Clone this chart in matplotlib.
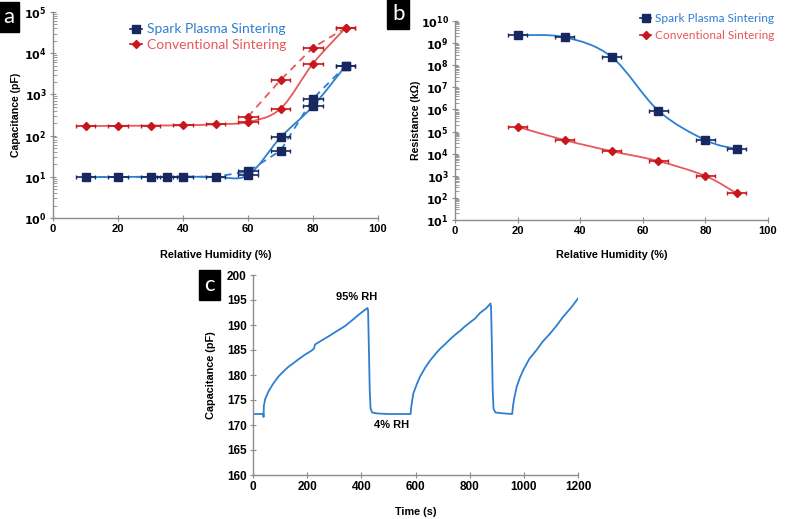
import numpy as np
import matplotlib
matplotlib.use("Agg")
import matplotlib.pyplot as plt
from matplotlib.path import Path
from matplotlib.patches import PathPatch
from matplotlib.lines import Line2D
from matplotlib.ticker import FuncFormatter, LogLocator, MultipleLocator

plt.rcParams['font.family'] = ['Liberation Sans', 'DejaVu Sans']

# panel a: capacitance vs RH
rh_a = [10, 20, 30, 35, 40, 50]
sps_a_flat = [9.8, 9.9, 10.0, 9.8, 10.1, 10.0]
sps_a_rh = [60, 70, 80, 90]
sps_a_solid = [11.0, 90, 520, 4900]
sps_a_dash = [13.5, 43, 790, 4900]
cs_a_rh = [10, 20, 30, 40, 50, 60, 70, 80, 90]
cs_a_solid = [171, 172, 175, 178, 188, 214, 450, 5600, 41000]
cs_a_dash_rh = [60, 70, 80, 90]
cs_a_dash = [288, 2230, 13700, 41000]
xerr_a = 3

# panel b: resistance vs RH
rh_b = [20, 35, 50, 65, 80, 90]
sps_b = [2.3e9, 1.85e9, 2.4e8, 8.7e5, 4.1e4, 1.6e4]
cs_b = [1.65e5, 4.1e4, 1.3e4, 4.6e3, 980, 160]
xerr_b = 3

# panel c: capacitance vs time
t_c = [0, 38, 39, 40, 45, 57, 75, 94, 112, 130, 150, 167, 190, 217, 225, 229,
       250, 278, 310, 340, 365, 389, 410, 423, 425, 428, 431, 434, 440, 460,
       500, 540, 582, 584, 588, 592, 605, 617, 635, 654, 672, 690, 710, 727,
       745, 764, 782, 801, 820, 838, 860, 877, 879, 882, 885, 888, 895, 930,
       957, 960, 965, 974, 985, 998, 1020, 1047, 1070, 1097, 1120, 1146, 1175, 1200]
cap_c = [172.2, 172.2, 171.6, 173.8, 175.2, 176.7, 178.3, 179.7, 180.7, 181.6,
         182.4, 183.1, 184.0, 184.9, 185.3, 186.1, 186.8, 187.7, 188.8, 189.8,
         190.9, 192.0, 192.9, 193.4, 192.8, 185.0, 177.0, 173.3, 172.5, 172.3,
         172.2, 172.2, 172.2, 173.5, 175.0, 176.3, 178.2, 179.7, 181.4, 182.9,
         184.1, 185.2, 186.2, 187.1, 188.0, 188.8, 189.7, 190.5, 191.3, 192.4,
         193.3, 194.3, 193.5, 186.0, 177.0, 173.3, 172.5, 172.3, 172.2, 173.8,
         175.5, 177.7, 179.4, 181.0, 183.2, 185.0, 186.7, 188.3, 189.8, 191.7,
         193.5, 195.3]

BLUE = '#2f7fcf'
NAVY = '#16285f'
RED = '#c8161d'
LRED = '#e9585a'
GRAY = '#8c8c8c'


def smooth_patch(x, y, **kw):
    # excel-like smoothed line: catmull-rom bezier in (x, log y)
    X = np.asarray(x, float)
    Y = np.log10(np.asarray(y, float))
    n = len(X)
    verts = [(X[0], Y[0])]
    codes = [Path.MOVETO]
    for i in range(n - 1):
        p0 = i - 1 if i > 0 else i
        p3 = i + 2 if i + 2 < n else i + 1
        c1 = (X[i] + (X[i + 1] - X[p0]) / 6, Y[i] + (Y[i + 1] - Y[p0]) / 6)
        c2 = (X[i + 1] - (X[p3] - X[i]) / 6, Y[i + 1] - (Y[p3] - Y[i]) / 6)
        verts += [c1, c2, (X[i + 1], Y[i + 1])]
        codes += [Path.CURVE4] * 3
    verts = [(vx, 10 ** vy) for vx, vy in verts]
    return PathPatch(Path(verts, codes), fill=False, **kw)


def style_axes(ax, tsize=8):
    for s in ['top', 'right']:
        ax.spines[s].set_visible(False)
    for s in ['left', 'bottom']:
        ax.spines[s].set_color(GRAY)
        ax.spines[s].set_linewidth(1.0)
    ax.tick_params(which='major', direction='inout', length=5, color=GRAY,
                   labelsize=tsize, pad=2)
    ax.tick_params(which='minor', direction='in', length=3, color=GRAY)
    for lab in ax.get_xticklabels() + ax.get_yticklabels():
        lab.set_fontweight('bold')


def log_fmt(v, pos):
    return r'$\mathbf{10^{%d}}$' % int(round(np.log10(v)))


def panel_label(x, y, s):
    fig.text(x, y, s, color='white', fontsize=16, family='Lato',
             ha='left', va='top',
             bbox=dict(boxstyle='square,pad=0.22', fc='black', ec='black'))


fig = plt.figure(figsize=(7.89, 5.19), dpi=100)
W, H = 789, 519


def add_ax(l, r, t, b):
    return fig.add_axes([l / W, 1 - b / H, (r - l) / W, (b - t) / H])


# ---- panel a
ax = add_ax(53, 378, 12, 218)
ax.set_yscale('log')
ax.plot(rh_a + sps_a_rh, sps_a_flat + sps_a_dash, color=BLUE, lw=1.3,
        ls=(0, (4, 3)), zorder=2)
ax.add_patch(smooth_patch(rh_a + sps_a_rh, sps_a_flat + sps_a_solid,
                          ec=BLUE, lw=1.3, zorder=2))
ax.plot(cs_a_dash_rh, cs_a_dash, color=LRED, lw=1.3, ls=(0, (4, 3)), zorder=2)
ax.add_patch(smooth_patch(cs_a_rh, cs_a_solid, ec=LRED, lw=1.3, zorder=2))
for xs, ys in [(rh_a + sps_a_rh, sps_a_flat + sps_a_solid), (sps_a_rh, sps_a_dash)]:
    ax.errorbar(xs, ys, xerr=xerr_a, fmt='s', color=NAVY, ms=5.5, capsize=1.5,
                elinewidth=1.2, zorder=3)
for xs, ys in [(cs_a_rh, cs_a_solid), (cs_a_dash_rh, cs_a_dash)]:
    ax.errorbar(xs, ys, xerr=xerr_a, fmt='D', color=RED, ms=4, capsize=1.5,
                elinewidth=1.2, zorder=3)
ax.set_xlim(0, 100)
ax.set_ylim(1, 1e5)
ax.xaxis.set_major_locator(MultipleLocator(20))
ax.yaxis.set_major_locator(LogLocator(10, numticks=10))
ax.yaxis.set_minor_locator(LogLocator(10, subs=np.arange(2, 10), numticks=10))
ax.yaxis.set_major_formatter(FuncFormatter(log_fmt))
ax.yaxis.set_minor_formatter(FuncFormatter(lambda v, p: ''))
style_axes(ax)
ax.set_xlabel('Relative Humidity (%)', fontsize=7.8, fontweight='bold', labelpad=11)
ax.set_ylabel('Capacitance (pF)', fontsize=7.6, fontweight='bold', labelpad=2)
h1 = Line2D([], [], color=NAVY, marker='s', ms=5.5, lw=1.2)
h2 = Line2D([], [], color=RED, marker='D', ms=4, lw=1.2)
leg = ax.legend([h1, h2], ['Spark Plasma Sintering', 'Conventional Sintering'],
                loc='upper left', bbox_to_anchor=(0.197, 1.005), frameon=False,
                handlelength=0.9, handletextpad=0.35, labelspacing=0.28,
                prop=dict(family='Lato', size=10))
leg.get_texts()[0].set_color(BLUE)
leg.get_texts()[1].set_color(LRED)

# ---- panel b
ax = add_ax(455, 768, 21, 220)
ax.set_yscale('log')
ax.add_patch(smooth_patch(rh_b, sps_b, ec=BLUE, lw=1.3, zorder=2))
ax.add_patch(smooth_patch(rh_b, cs_b, ec=LRED, lw=1.3, zorder=2))
ax.errorbar(rh_b, sps_b, xerr=xerr_b, fmt='s', color=NAVY, ms=5.5, capsize=1.5,
            elinewidth=1.2, zorder=3)
ax.errorbar(rh_b, cs_b, xerr=xerr_b, fmt='D', color=RED, ms=4, capsize=1.5,
            elinewidth=1.2, zorder=3)
ax.set_xlim(0, 100)
ax.set_ylim(10, 1e10)
ax.xaxis.set_major_locator(MultipleLocator(20))
ax.yaxis.set_major_locator(LogLocator(10, numticks=12))
ax.yaxis.set_minor_locator(LogLocator(10, subs=np.arange(2, 10), numticks=12))
ax.yaxis.set_major_formatter(FuncFormatter(log_fmt))
ax.yaxis.set_minor_formatter(FuncFormatter(lambda v, p: ''))
style_axes(ax)
ax.set_xlabel('Relative Humidity (%)', fontsize=7.8, fontweight='bold', labelpad=10)
ax.set_ylabel('Resistance (kΩ)', fontsize=7.6, fontweight='bold', labelpad=0)
leg = ax.legend([h1, h2], ['Spark Plasma Sintering', 'Conventional Sintering'],
                loc='upper right', bbox_to_anchor=(1.055, 1.095), frameon=False,
                handlelength=0.9, handletextpad=0.35, labelspacing=0.5,
                prop=dict(family='Lato', size=8.6))
leg.get_texts()[0].set_color(BLUE)
leg.get_texts()[1].set_color(LRED)

# ---- panel c
ax = add_ax(253, 578, 275, 475)
ax.plot(t_c, cap_c, color=BLUE, lw=1.3)
ax.set_xlim(0, 1200)
ax.set_ylim(160, 200)
ax.xaxis.set_major_locator(MultipleLocator(200))
ax.yaxis.set_major_locator(MultipleLocator(5))
style_axes(ax, tsize=8.5)
ax.set_xlabel('Time (s)', fontsize=7.8, fontweight='bold', labelpad=10)
ax.set_ylabel('Capacitance (pF)', fontsize=7.8, fontweight='bold', labelpad=8)
ax.text(383, 195.7, '95% RH', fontsize=8, fontweight='bold', ha='center', va='center')
ax.text(512, 169.9, '4% RH', fontsize=8, fontweight='bold', ha='center', va='center')

panel_label(3 / W, 1 - 7 / H, 'a')
panel_label(392 / W, 1 - 4 / H, 'b')
panel_label(204 / W, 1 - 275 / H, 'c')

fig.savefig('out.png', dpi=100)
